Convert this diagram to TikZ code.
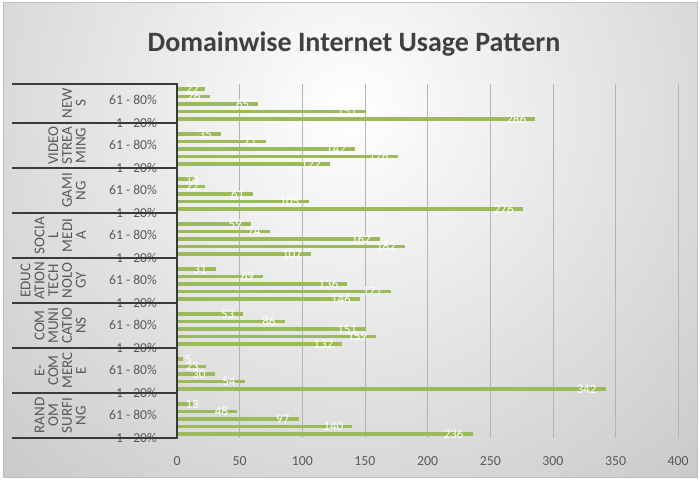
\documentclass[tikz,border=0pt]{standalone}
\usepackage{fontspec}
\setmainfont{Carlito}
\definecolor{bargreen}{HTML}{9BBB59}
\definecolor{axisdark}{HTML}{3A3A3A}
\definecolor{txtgray}{HTML}{595959}
\definecolor{titlegray}{HTML}{404040}
\definecolor{gridgray}{HTML}{B4B4B4}
\definecolor{bgouter}{HTML}{C8C8C8}
\definecolor{framegray}{HTML}{BFBFBF}
\begin{document}
\begin{tikzpicture}[x=1pt,y=-1pt,
  barline/.style={bargreen, line width=3.6pt},
  vallab/.style={font=\fontsize{13}{13}\selectfont, text=white, inner sep=0pt, anchor=east},
  sublab/.style={font=\fontsize{13.6}{14}\selectfont, text=txtgray, inner sep=0pt, anchor=east},
  catlab/.style={font=\fontsize{15}{13.8}\selectfont, text=txtgray, inner sep=0pt, rotate=90, anchor=south, align=center},
  ticklab/.style={font=\fontsize{13.8}{14}\selectfont, text=txtgray, inner sep=0pt},
  sepline/.style={axisdark, line width=1.8pt},
  gridline/.style={gridgray, line width=0.8pt}]

\useasboundingbox (0,0) rectangle (700,479);
\fill[white] (0,0) rectangle (700,479);
\begin{scope}
  \clip (3,2) rectangle (697,477);
  \shade[inner color=white, outer color=bgouter] (350,110) circle (520);
\end{scope}
\draw[framegray, line width=0.8pt] (3,2) rectangle (697,477);

% title
\node[font=\fontsize{28}{30}\selectfont\bfseries, text=titlegray] (title) at (354,44) {Domainwise Internet Usage Pattern};

% gridlines
\foreach \t in {50,100,...,400} {
  \draw[gridline] (177+\t*1.253,84) -- (177+\t*1.253,438);
}
% tick labels
\foreach \t in {0,50,...,400} {
  \node[ticklab] (tick\t) at (177+\t*1.253,461) {\t};
}

% bars and value labels
\foreach \vals [count=\c from 0] in {{22,26,65,151,286},{35,71,142,176,122},{14,22,61,105,276},{59,74,162,182,107},{31,69,136,171,146},{53,86,151,159,132},{5,23,30,54,342},{13,48,97,140,236}} {
  \foreach \v [count=\i from 0] in \vals {
    \pgfmathsetmacro\yy{104+45*\c+(\i-2)*7.5}
    \pgfmathsetmacro\xe{177+\v*1.253}
    \draw[barline] (177,\yy) -- (\xe,\yy);
    \pgfmathsetmacro\lx{max(\xe-9, 177+(\v<10 ? 15 : 22))}
    \node[vallab] (val-\c-\i) at (\lx,\yy) {\v};
  }
  \pgfmathsetmacro\ya{104+45*\c-7.5+3.5}
  \pgfmathsetmacro\yb{104+45*\c+15+3.5}
  \node[sublab] (suba-\c) at (157,\ya) {61 - 80\%};
  \node[sublab] (subb-\c) at (157,\yb) {1 - 20\%};
}

% category labels
\node[catlab] (cat0) at (86,103.5) {NEW\\S};
\node[catlab] (cat1) at (86,145.5) {VIDEO\\STREA\\MING};
\node[catlab] (cat2) at (86,190.5) {GAMI\\NG};
\node[catlab] (cat3) at (86,235.5) {SOCIA\\L\\MEDI\\A};
\node[catlab] (cat4) at (86,280.5) {EDUC\\ATION\\TECH\\NOLO\\GY};
\node[catlab] (cat5) at (86,325.5) {COM\\MUNI\\CATIO\\NS};
\node[catlab] (cat6) at (86,370.5) {E-\\COM\\MERC\\E};
\node[catlab] (cat7) at (86,415.5) {RAND\\OM\\SURFI\\NG};

% separators and axis
\foreach \yy in {84,123,168,213,258,303,348,393,438} {
  \draw[sepline] (12,\yy) -- (177,\yy);
}
\draw[sepline] (177,83.1) -- (177,438.9);
\end{tikzpicture}
\end{document}
